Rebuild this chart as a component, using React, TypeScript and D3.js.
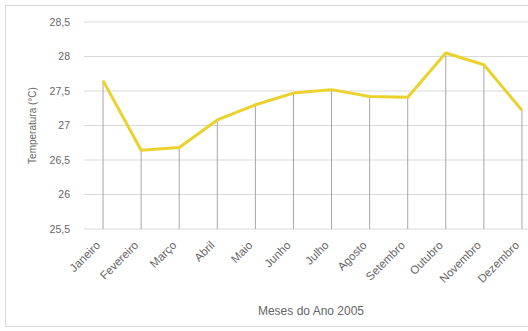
import React from "react";
import * as d3 from "d3";

const months = ["Janeiro","Fevereiro","Março","Abril","Maio","Junho","Julho","Agosto","Setembro","Outubro","Novembro","Dezembro"];
const temps = [27.65, 26.64, 26.68, 27.08, 27.3, 27.47, 27.52, 27.42, 27.41, 28.05, 27.88, 27.22];
const yTicks = [25.5, 26, 26.5, 27, 27.5, 28, 28.5];

export default function App() {
  const W = 528, H = 331;
  const x = d3.scaleBand<string>().domain(months).range([84, 541]);
  const y = d3.scaleLinear().domain([25.5, 28.5]).range([229, 22]);
  const cx = (m: string) => (x(m) as number) + x.bandwidth() / 2;
  const line = d3.line<number>().x((_, i) => cx(months[i])).y(d => y(d));
  const fmt = (v: number) => String(v).replace(".", ",");
  const font = "'Liberation Sans', Arial, sans-serif";
  const grey = "#666666";
  return (
    <svg width={W} height={H} style={{ position: "absolute", left: 0, top: 0, background: "#fff" }} fontFamily={font}>
      <rect x={5.5} y={5.5} width={540} height={321} fill="#fff" stroke="#D9D9D9" />
      {yTicks.map(t => (
        <g key={t}>
          <line x1={84} x2={541} y1={y(t)} y2={y(t)} stroke="#D9D9D9" strokeWidth={1} />
          <text x={70} y={y(t)} dy="0.35em" textAnchor="end" fontSize={10.5} fill={grey}>{fmt(t)}</text>
        </g>
      ))}
      {temps.map((v, i) => (
        <line key={i} x1={cx(months[i])} x2={cx(months[i])} y1={y(v)} y2={y(25.5)} stroke="#A6A6A6" strokeWidth={1} />
      ))}
      <path d={line(temps) || ""} fill="none" stroke="#EBD12C" strokeWidth={3} strokeLinejoin="round" />
      {months.map(m => (
        <text key={m} transform={`translate(${cx(m) - 2},${y(25.5) + 17}) rotate(-45)`} textAnchor="end" fontSize={11.5} fill={grey}>{m}</text>
      ))}
      <text transform={`translate(36,${(y(25.5) + y(28.5)) / 2}) rotate(-90)`} textAnchor="middle" fontSize={10} fill={grey}>Temperatura (°C)</text>
      <text x={311} y={315} textAnchor="middle" fontSize={12} fill={grey}>Meses do Ano 2005</text>
    </svg>
  );
}
